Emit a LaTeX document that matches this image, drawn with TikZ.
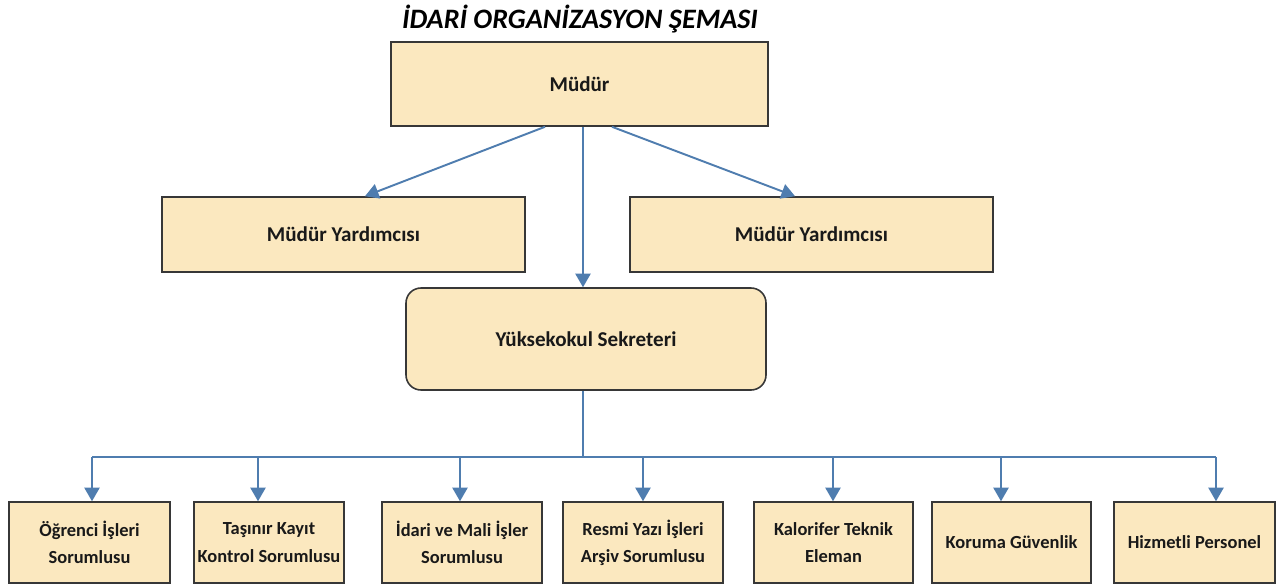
\documentclass[tikz,border=0pt]{standalone}
\usepackage{fontspec}
\setmainfont{Carlito}
\usetikzlibrary{calc,arrows,shapes}
\definecolor{boxfill}{RGB}{251,232,191}
\definecolor{boxline}{RGB}{55,55,55}
\definecolor{linkblue}{RGB}{79,125,175}
\tikzset{
  unitbox/.style={draw=boxline,fill=boxfill,line width=0.9pt,align=center,inner sep=2pt,
    font=\bfseries\fontsize{12}{14}\selectfont,text=black!90},
  staffbox/.style={unitbox,minimum width=3.2cm,minimum height=1.62cm,
    font=\bfseries\fontsize{10.5}{15.5}\selectfont},
  link/.style={draw=linkblue,line width=1.1pt},
  arr/.style={link,->,>=triangle 60}
}
\begin{document}
\begin{tikzpicture}
\useasboundingbox (0,0) rectangle (25.72,-11.72);
\node (title) at (11.6,-0.38) {\bfseries\itshape\fontsize{16}{18}\selectfont İDARİ ORGANİZASYON ŞEMASI};

\node[unitbox,minimum width=7.54cm,minimum height=1.68cm] (mudur) at (11.59,-1.68) {Müdür};
\node[unitbox,minimum width=7.26cm,minimum height=1.5cm] (yrd1) at (6.87,-4.69) {Müdür Yardımcısı};
\node[unitbox,minimum width=7.26cm,minimum height=1.5cm] (yrd2) at (16.23,-4.69) {Müdür Yardımcısı};
\node[unitbox,rounded corners=0.3cm,minimum width=7.2cm,minimum height=2.04cm] (sek) at (11.72,-6.78) {Yüksekokul Sekreteri};

\draw[arr] ([xshift=-0.69cm]mudur.south)--([xshift=0.43cm]yrd1.north);
\draw[arr] ([xshift=0.65cm]mudur.south)--([xshift=-0.33cm]yrd2.north);
\draw[arr] ([xshift=0.07cm]mudur.south)--([xshift=0.07cm]mudur.south |- sek.north);

% alt birimler
\node[staffbox,minimum width=3.22cm] (ogr) at (1.79,-10.85) {Öğrenci İşleri\\Sorumlusu};
\node[staffbox,minimum width=3.0cm] (tas) at (5.38,-10.85) {Taşınır Kayıt\\Kontrol Sorumlusu};
\node[staffbox] (mali) at (9.24,-10.85) {İdari ve Mali İşler\\Sorumlusu};
\node[staffbox] (arsiv) at (12.86,-10.85) {Resmi Yazı İşleri\\Arşiv Sorumlusu};
\node[staffbox,minimum width=3.18cm] (kal) at (16.67,-10.85) {Kalorifer Teknik\\Eleman};
\node[staffbox,minimum width=3.18cm] (kor) at (20.23,-10.85) {Koruma Güvenlik};
\node[staffbox,minimum width=3.22cm] (hiz) at (23.89,-10.85) {Hizmetli Personel};

\coordinate (busL) at (1.84,-9.14);
\coordinate (busR) at (24.32,-9.14);
\draw[link] ([xshift=-0.06cm]sek.south)--([xshift=-0.06cm]sek.south |- busL);
\draw[link] (busL)--(busR);
\foreach \n/\x in {ogr/1.84,tas/5.16,mali/9.2,arsiv/12.86,kal/16.66,kor/20.02,hiz/24.32}{
  \coordinate (d-\n) at (\x,-9.14);
  \draw[arr] (d-\n)--(d-\n |- \n.north);
}
\end{tikzpicture}
\end{document}
